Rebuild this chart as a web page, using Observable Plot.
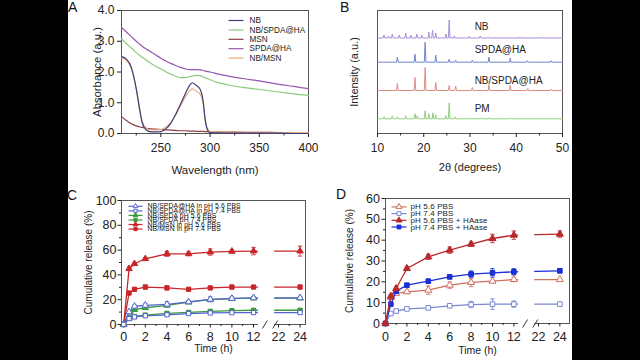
<!DOCTYPE html>
<html><head><meta charset="utf-8">
<script src="https://cdn.jsdelivr.net/npm/d3@7"></script>
<script src="https://cdn.jsdelivr.net/npm/@observablehq/plot@0.6"></script>
<style>
html,body{margin:0;padding:0;background:#000;}
#page{position:relative;width:640px;height:360px;background:#000;overflow:hidden;font-family:"Liberation Sans",Arial,sans-serif;}
#sheet{position:absolute;left:68px;top:0;width:504px;height:360px;background:#fff;}
.panel{position:absolute;}
.letter{position:absolute;font-size:14px;line-height:1;color:#111;}
</style></head><body>
<div id="page"><div id="sheet"></div></div>
<script>
// ================= DATA =================
// Panel A: UV-vis absorbance
const wavelength = [210,215,220,225,228,231,235,240,245,250,255,260,265,270,275,279,282,286,290,293,295,298,300,310,320,335,350,370,385,400];
const absNB      = [2.50,2.42,2.15,1.45,0.86,0.35,0.12,0.05,0.05,0.06,0.15,0.33,0.62,0.96,1.30,1.56,1.65,1.56,1.43,1.05,0.45,0.08,0.03,0.02,0.01,0.01,0.01,0.01,0.00,0.00];
const absNBSPDAHA= [3.08,2.92,2.78,2.63,2.55,2.48,2.39,2.28,2.18,2.10,2.01,1.93,1.86,1.82,1.82,1.85,1.87,1.89,1.88,1.84,1.81,1.78,1.75,1.64,1.57,1.49,1.43,1.35,1.29,1.24];
const absMSN     = [0.55,0.42,0.32,0.25,0.22,0.20,0.17,0.15,0.14,0.13,0.12,0.11,0.10,0.09,0.09,0.08,0.08,0.07,0.07,0.07,0.06,0.06,0.06,0.05,0.05,0.04,0.04,0.03,0.03,0.02];
const absSPDAHA  = [3.45,3.30,3.15,3.00,2.92,2.84,2.75,2.65,2.55,2.45,2.36,2.28,2.21,2.15,2.10,2.08,2.08,2.08,2.07,2.05,2.03,2.01,2.00,1.92,1.86,1.78,1.71,1.60,1.53,1.46];
const absNBMSN   = [2.45,2.38,2.10,1.45,0.90,0.40,0.18,0.12,0.12,0.13,0.20,0.35,0.60,0.90,1.20,1.38,1.45,1.38,1.28,0.95,0.45,0.12,0.07,0.05,0.05,0.04,0.04,0.03,0.03,0.03];
const aNames = ["NB","NB/SPDA@HA","MSN","SPDA@HA","NB/MSN"];
const aTicks = [250,300,350,400];
const aYTicks = [0,1,2,3,4];

// Panel B: XRD peaks [2θ, relative height]
const xrdNB = [[11.4,3],[12.4,2],[13.2,4],[14.7,3],[16.1,5],[17.2,3],[18.5,4],[19.6,3],[21.1,6],[21.9,8],[22.6,5],[24.8,4],[25.5,18],[26.6,2],[29.8,1.5],[32.2,2],[34.0,1],[40.8,1],[45.5,1]];
const xrdSPDAHA = [[14.3,5],[18.1,8],[20.3,20],[22.6,7],[25.5,3],[26.9,2],[30.5,2],[34.1,5],[38.7,4],[42.4,1.5],[47.5,1.5]];
const xrdNBSPDAHA = [[14.3,7],[18.1,13],[20.3,23],[22.6,8],[25.5,5],[26.9,4.5],[30.5,3],[34.1,6],[38.7,5],[42.5,2],[47.6,1.5]];
const xrdPM = [[11.4,2],[13.2,3],[14.3,2],[16.1,3],[18.1,5],[18.6,3],[20.3,8],[21.1,5],[22.0,6],[22.6,4],[24.8,3],[25.5,16],[26.8,2],[29.8,1],[32.2,1],[34.1,1],[38.7,1]];
const bNames = ["NB","SPDA@HA","NB/SPDA@HA","PM"];
const bTicks = [10,20,30,40,50];

// Panels C & D: cumulative release (%)
const hours = [0,0.5,1,2,4,6,8,10,12,24];
const timeTicks = [0,2,4,6,8,10,12,22,24];
const cHA56  = [0,10.2,14.7,15.5,16.3,18.2,20.3,21.0,21.5,21.5];
const cHA74  = [0,4.8,6.1,7.0,7.8,8.8,9.3,9.5,9.6,9.6];
const cS56   = [0,5.0,12.0,13.5,15.5,18.0,20.0,20.8,21.3,21.3];
const cS74   = [0,5.2,6.5,7.6,9.0,9.8,10.6,11.2,11.5,11.5];
const cMSN56 = [0,45,49,53,57,57,58.4,59,59.2,59.2];
const cMSN74 = [0,25.4,28.4,30.2,29.5,28.4,29.5,30.2,30.2,30.2];
const cHA56Err  = [0,1,1,1.5,2,1,2,1,1,1];
const cHA74Err  = [0,0.5,0.5,1,1,1,1,1,1,1];
const cS56Err   = [0,1,1,1,1,1,1,1,1,1];
const cS74Err   = [0,0.5,0.5,1,1,1,1,1,1,1];
const cMSN56Err = [0,1.5,1,1,2,1.5,2.5,1.2,3,4];
const cMSN74Err = [0,1,1,1.5,1.5,1,1,1.5,1,1.5];
const cNames = ["NB/SPDA@HA in pH 5.6 PBS","NB/SPDA@HA in pH 7.4 PBS","NB/SPDA pH 5.6 PBS","NB/SPDA pH 7.4 PBS","NB/MSN in pH 5.6 PBS","NB/MSN in pH 7.4 PBS"];

const dPBS56 = [0,12.5,14.5,15.2,16.0,18.4,19.7,20.3,21.1,21.1];
const dPBS74 = [0,4.8,6.0,7.0,7.5,8.5,9.1,9.3,9.3,9.3];
const dHA56  = [0,13.1,16.8,26.4,32.0,35.2,38.1,40.8,42.4,42.9];
const dHA74  = [0,9.3,15.5,18.4,20.3,22.4,23.7,24.3,24.8,25.3];
const dPBS56Err = [0,0.5,0.5,0.8,2,1.5,2,0.5,1,0.5];
const dPBS74Err = [0,0.3,0.5,0.5,0.5,0.8,1.5,2.5,1.5,0.5];
const dHA56Err  = [0,0.8,1,1,1.2,1.5,1,2,2,1.5];
const dHA74Err  = [0,0.5,1,0.8,1,1,1.5,2,1.5,1];
const dNames = ["pH 5.6 PBS","pH 7.4 PBS","pH 5.6 PBS + HAase","pH 7.4 PBS + HAase"];

// ================= STYLE / LAYOUT =================
const FONT = "'Liberation Sans', Arial, Helvetica, sans-serif";
const INK = "#222";
const FRAME = "#555";
const hline = w => ({draw(ctx){ctx.moveTo(-w,0);ctx.lineTo(w,0);}});
const slash = {draw(ctx){ctx.moveTo(-2.5,4);ctx.lineTo(2.5,-4);}};
const BREAK_SHIFT = 7.7;              // axis break: hours >= 22 are drawn shifted left
const posH = t => t <= 13 ? t : t - BREAK_SHIFT;
const hourLabel = p => { const t = p > 13 ? p + BREAK_SHIFT : p; return String(Math.round(t)); };

function legend(items, o) {
  return items.flatMap((it, i) => {
    const dy = o.dy0 + i * o.step;
    const marks = [
      Plot.dot([0], {frameAnchor:"top-left", dx:o.dxLine, dy, symbol:hline(o.half), stroke:it.color, fill:"none", strokeWidth:1.2})
    ];
    if (it.symbol) marks.push(Plot.dot([0], {frameAnchor:"top-left", dx:o.dxLine, dy, symbol:it.symbol, r:o.r, stroke:it.color, fill:it.open ? "white" : it.color, strokeWidth:1}));
    marks.push(Plot.text([it.label], {frameAnchor:"top-left", dx:o.dxText, dy, text:d=>d, textAnchor:"start", lineAnchor:"middle", fontSize:o.fontSize, fill:o.ink || INK}));
    return marks;
  });
}
function axisTitles(xLabel, xdy, xSize, yLabel, ydx, ySize) {
  return [
    Plot.text([xLabel], {frameAnchor:"bottom", dy:xdy, text:d=>d, textAnchor:"middle", lineAnchor:"middle", fontSize:xSize, fill:INK}),
    Plot.text([yLabel], {frameAnchor:"left", dx:ydx, rotate:-90, text:d=>d, textAnchor:"middle", lineAnchor:"middle", fontSize:ySize, fill:INK})
  ];
}
function place(svg, left, top) {
  const wrap = document.createElement("div");
  wrap.className = "panel"; wrap.style.left = left + "px"; wrap.style.top = top + "px";
  wrap.appendChild(svg);
  document.getElementById("page").appendChild(wrap);
}
function letter(ch, left, top) {
  const d = document.createElement("div");
  d.className = "letter"; d.textContent = ch; d.style.left = left + "px"; d.style.top = top + "px";
  document.getElementById("page").appendChild(d);
}
function spaceLetters(svg, names, spacing) {
  svg.querySelectorAll("text").forEach(t => { if (names.includes(t.textContent)) t.setAttribute("letter-spacing", spacing); });
}

// ================= PANEL A =================
{
  const series = [absNB, absNBSPDAHA, absMSN, absSPDAHA, absNBMSN];
  const colors = ["#403c7c","#8ccb7e","#8c3f46","#9657ae","#e9ad7a"];
  const drawOrder = [2,4,0,1,3];
  const lines = drawOrder.map(k => Plot.line(wavelength.map((w,i)=>({w, a:series[k][i]})),
      {x:"w", y:"a", stroke:colors[k], strokeWidth:1.2, curve:"monotone-x"}));
  const svg = Plot.plot({
    width:250, height:180, marginLeft:53, marginRight:10, marginTop:10, marginBottom:47,
    style:{fontFamily:FONT, fontSize:"12px", color:INK, background:"none"},
    x:{domain:[210,400]}, y:{domain:[0,4]},
    marks:[
      Plot.frame({stroke:FRAME}),
      Plot.axisX({ticks:[225,275,325,375], tickSize:2.5, tickFormat:()=>"", label:null}),
      Plot.axisX({ticks:aTicks, tickSize:4, tickPadding:6, label:null}),
      Plot.axisY({ticks:aYTicks, tickSize:4, tickPadding:3, label:null}),
      ...lines,
      ...legend(aNames.map((n,k)=>({label:n, color:colors[k]})), {dxLine:114.5, half:7.5, dxText:128, dy0:10, step:9.4, fontSize:8.2}),
      ...axisTitles("Wavelength (nm)", 37, 11.5, "Absorbance (a.u.)", -24, 11.3)
    ]
  });
  place(svg, 68, 0); letter("A", 68, 0);
}

// ================= PANEL B =================
{
  const peaks = [xrdNB, xrdSPDAHA, xrdNBSPDAHA, xrdPM];
  const bases = [95.5, 71.3, 43, 14.7];
  const labelLift = [10.8, 12.9, 10, 10];
  const colors = ["#a98fd6","#6f86cc","#dc8f80","#92cf7f"];
  const trace = (pk, base) => {
    const pts = [{x:10, y:base}];
    for (const [p,h] of pk) pts.push({x:p-0.18, y:base}, {x:p, y:base+h}, {x:p+0.18, y:base});
    pts.push({x:50, y:base});
    return pts;
  };
  const svg = Plot.plot({
    width:252, height:180, marginLeft:57, marginRight:10, marginTop:10, marginBottom:47,
    style:{fontFamily:FONT, fontSize:"12px", color:INK, background:"none"},
    x:{domain:[10,50]}, y:{domain:[0,123], axis:null},
    marks:[
      Plot.frame({stroke:FRAME}),
      Plot.axisX({ticks:[15,25,35,45], tickSize:2.5, tickFormat:()=>"", label:null}),
      Plot.axisX({ticks:bTicks, tickSize:4, tickPadding:6, label:null}),
      ...peaks.map((pk,k)=>Plot.line(trace(pk, bases[k]), {x:"x", y:"y", stroke:colors[k], strokeWidth:1})),
      Plot.text(bNames.map((n,k)=>({n, x:31, y:bases[k]+labelLift[k]})), {x:"x", y:"y", text:"n", textAnchor:"start", lineAnchor:"middle", fontSize:10, fill:INK}),
      ...axisTitles("2θ (degrees)", 34, 11, "Intensity (a.u.)", -23, 11)
    ]
  });
  place(svg, 320, 0); letter("B", 340, 0);
}

// ================= release panels helper =================
function releasePanel(cfg) {
  const marks = [
    Plot.frame({stroke:FRAME}),
    Plot.axisX({ticks:[1,3,5,7,9,11,23].map(posH), tickSize:2, tickFormat:()=>"", label:null}),
    Plot.axisX({ticks:timeTicks.map(posH), tickSize:3.5, tickPadding:cfg.xPad, tickFormat:hourLabel, label:null}),
    Plot.axisY({ticks:cfg.yMinor, tickSize:2, tickFormat:()=>"", label:null}),
    Plot.axisY({ticks:cfg.yTicks, tickSize:3.5, tickPadding:cfg.yPad, label:null})
  ];
  for (const k of cfg.order) {
    const s = cfg.series[k];
    const rows = hours.map((t,i)=>({p:posH(t), v:s.values[i], e:s.err[i]}));
    const eb = rows.filter(d=>d.e>0);
    marks.push(
      Plot.line(rows, {x:"p", y:"v", stroke:s.color, strokeWidth:1.3}),
      Plot.ruleX(eb, {x:"p", y1:d=>d.v-d.e, y2:d=>d.v+d.e, stroke:s.color, strokeWidth:0.9}),
      Plot.dot(eb, {x:"p", y:d=>d.v+d.e, symbol:hline(2.2), stroke:s.color, fill:"none", strokeWidth:0.9}),
      Plot.dot(eb, {x:"p", y:d=>d.v-d.e, symbol:hline(2.2), stroke:s.color, fill:"none", strokeWidth:0.9}),
      Plot.dot(rows, {x:"p", y:"v", symbol:s.symbol, r:cfg.r, stroke:s.color, fill:s.open ? "white" : s.color, strokeWidth:1})
    );
  }
  marks.push(
    Plot.rect([{x1:12.45, x2:13.95, y1:cfg.yDomain[0], y2:cfg.yDomain[1]*0.965}], {x1:"x1", x2:"x2", y1:"y1", y2:"y2", fill:"white", insetBottom:-2.5}),
    Plot.dot([13.05, 14.0].map(p=>({p, y:cfg.yDomain[0]})), {x:"p", y:"y", symbol:slash, stroke:"#333", fill:"none", strokeWidth:1}),
    ...legend(cfg.series.map(s=>({label:s.name, color:s.color, symbol:s.symbol, open:s.open})), cfg.legend),
    ...axisTitles("Time (h)", cfg.xTitleDy, 10.5, "Cumulative release (%)", cfg.yTitleDx, 10)
  );
  return Plot.plot({
    width:cfg.width, height:180, marginLeft:cfg.ml, marginRight:cfg.mr, marginTop:cfg.mt, marginBottom:cfg.mb,
    style:{fontFamily:FONT, fontSize:"12.5px", color:INK, background:"none"},
    x:{domain:cfg.xDomain}, y:{domain:cfg.yDomain},
    marks
  });
}

// ================= PANEL C =================
{
  const blue = "#5565cf", green = "#3b9a3b", red = "#c8262a";
  const series = [
    {name:cNames[0], values:cHA56, err:cHA56Err, color:blue, symbol:"triangle", open:true},
    {name:cNames[1], values:cHA74, err:cHA74Err, color:blue, symbol:"square", open:true},
    {name:cNames[2], values:cS56, err:cS56Err, color:green, symbol:"triangle", open:false},
    {name:cNames[3], values:cS74, err:cS74Err, color:green, symbol:"square", open:false},
    {name:cNames[4], values:cMSN56, err:cMSN56Err, color:red, symbol:"triangle", open:false},
    {name:cNames[5], values:cMSN74, err:cMSN74Err, color:red, symbol:"square", open:false}
  ];
  const svg = releasePanel({
    series, order:[4,5,2,3,0,1], width:250, ml:53, mr:13, mt:20, mb:36,
    xDomain:[-0.2,16.8], yDomain:[0,100], yTicks:[0,20,40,60,80,100], yMinor:[10,30,50,70,90],
    xPad:4, yPad:1.5, r:2.4, xTitleDy:24, yTitleDx:-32.7,
    legend:{dxLine:14, half:7, dxText:26, dy0:5.8, step:4.55, fontSize:6.8, r:1.8, ink:"#111"}
  });
  spaceLetters(svg, cNames, "0.12");
  place(svg, 68, 180); letter("C", 67, 188);
}

// ================= PANEL D =================
{
  const series = [
    {name:dNames[0], values:dPBS56, err:dPBS56Err, color:"#d0705e", symbol:"triangle", open:true},
    {name:dNames[1], values:dPBS74, err:dPBS74Err, color:"#7a88d2", symbol:"square", open:true},
    {name:dNames[2], values:dHA56, err:dHA56Err, color:"#b8292c", symbol:"triangle", open:false},
    {name:dNames[3], values:dHA74, err:dHA74Err, color:"#1b2fd6", symbol:"square", open:false}
  ];
  const svg = releasePanel({
    series, order:[1,0,3,2], width:252, ml:65, mr:3, mt:18, mb:37,
    xDomain:[0,17.2], yDomain:[0,60], yTicks:[0,10,20,30,40,50,60], yMinor:[5,15,25,35,45,55],
    xPad:5, yPad:2, r:2.6, xTitleDy:26.7, yTitleDx:-35.7,
    legend:{dxLine:13.5, half:7.5, dxText:25, dy0:8.4, step:6.7, fontSize:8, r:2.2}
  });
  spaceLetters(svg, dNames, "0.12");
  place(svg, 320, 180); letter("D", 336, 187);
}
</script>
</body></html>
